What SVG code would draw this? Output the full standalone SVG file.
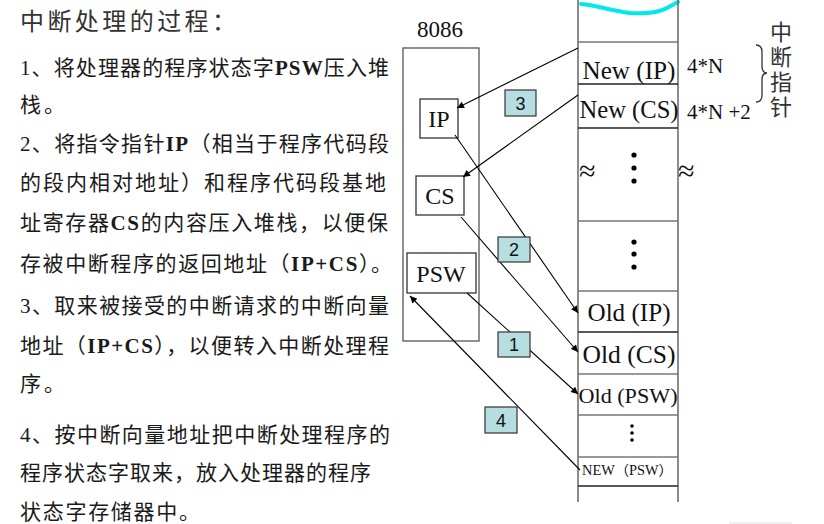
<svg xmlns="http://www.w3.org/2000/svg" width="824" height="524" viewBox="0 0 824 524">
<defs>
<marker id="ah" viewBox="0 0 10 10" refX="10" refY="5" markerWidth="8" markerHeight="7" markerUnits="userSpaceOnUse" orient="auto">
<path d="M0,0 L10,5 L0,10 z" fill="#000"/>
</marker>
</defs>
<style>
.body{font-family:"Liberation Serif","Noto Sans CJK SC",serif;font-size:21px;fill:#1a1a1a}
.b{font-weight:bold}
.ser{font-family:"Liberation Serif","Noto Sans CJK SC",serif;fill:#111}
.box{fill:#fff;stroke:#333;stroke-width:1.3}
.num{fill:#b6dde0;stroke:#333;stroke-width:1.2}
.numt{font-family:"Liberation Sans",sans-serif;font-size:18px;fill:#111;text-anchor:middle}
.col{stroke:#666;stroke-width:1.5}
.hl{stroke:#777;stroke-width:1.3}
.hd{stroke:#222;stroke-width:1.6}
.conn{stroke:#000;stroke-width:1.1;fill:none}
.dot{fill:#000}
</style>

<g id="title">
<text x="20" y="30" font-family="Noto Sans CJK SC,sans-serif" font-size="24" fill="#333" textLength="216" lengthAdjust="spacing">中断处理的过程：</text>
</g>

<g id="steps" class="body">
<text x="20" y="75" textLength="369" lengthAdjust="spacing">1、将处理器的程序状态字<tspan class="b">PSW</tspan>压入堆</text>
<text x="20" y="112" textLength="45" lengthAdjust="spacing">栈。</text>
<text x="20" y="151" textLength="369" lengthAdjust="spacing">2、将指令指针<tspan class="b">IP</tspan>（相当于程序代码段</text>
<text x="20" y="190" textLength="366" lengthAdjust="spacing">的段内相对地址）和程序代码段基地</text>
<text x="20" y="230" textLength="368" lengthAdjust="spacing">址寄存器<tspan class="b">CS</tspan>的内容压入堆栈，以便保</text>
<text x="20" y="271" textLength="372" lengthAdjust="spacing">存被中断程序的返回地址（<tspan class="b">IP+CS</tspan>）。</text>
<text x="20" y="313" textLength="369" lengthAdjust="spacing">3、取来被接受的中断请求的中断向量</text>
<text x="20" y="353" textLength="369" lengthAdjust="spacing">地址（<tspan class="b">IP+CS</tspan>），以便转入中断处理程</text>
<text x="20" y="391" textLength="45" lengthAdjust="spacing">序。</text>
<text x="20" y="442" textLength="370" lengthAdjust="spacing">4、按中断向量地址把中断处理程序的</text>
<text x="20" y="480" textLength="351" lengthAdjust="spacing">程序状态字取来，放入处理器的程序</text>
<text x="20" y="519" textLength="180" lengthAdjust="spacing">状态字存储器中。</text>
</g>

<g id="cpu8086">
<text class="ser" x="440" y="37" font-size="23" text-anchor="middle">8086</text>
<rect x="403" y="48" width="76" height="293" fill="none" stroke="#555" stroke-width="1.3"/>
</g>
<g id="reg-ip">
<rect class="box" x="420" y="99" width="38" height="39"/>
<text class="ser" x="439" y="127" font-size="24" text-anchor="middle">IP</text>
</g>
<g id="reg-cs">
<rect class="box" x="416" y="176" width="48" height="39"/>
<text class="ser" x="440" y="204" font-size="24" text-anchor="middle">CS</text>
</g>
<g id="reg-psw">
<rect class="box" x="407" y="253" width="69" height="40"/>
<text class="ser" x="441" y="282" font-size="24" text-anchor="middle">PSW</text>
</g>

<g id="stack">
<path d="M581,4 C596,5 608,10 630,13 C648,14 660,12 667,8 L678,2" fill="none" stroke="#00e8f0" stroke-width="4" stroke-linecap="round"/>
<line class="col" x1="578" y1="0" x2="578" y2="502"/>
<line class="col" x1="678" y1="0" x2="678" y2="502"/>
<line class="hl" x1="578" y1="42" x2="678" y2="42"/>
<line class="hd" x1="578" y1="84" x2="678" y2="84"/>
<line class="hd" x1="578" y1="128" x2="678" y2="128"/>
<line class="hl" x1="578" y1="221" x2="678" y2="221"/>
<line class="hl" x1="578" y1="291" x2="678" y2="291"/>
<line class="hd" x1="578" y1="332" x2="678" y2="332"/>
<line class="hl" x1="578" y1="374" x2="678" y2="374"/>
<line class="hl" x1="578" y1="415" x2="678" y2="415"/>
<line class="hl" x1="578" y1="457" x2="678" y2="457"/>
<line class="hd" x1="578" y1="486" x2="678" y2="486"/>
</g>
<g id="new-ip"><text class="ser" x="629" y="79" font-size="25" text-anchor="middle" textLength="93" lengthAdjust="spacingAndGlyphs">New (IP)</text></g>
<g id="new-cs"><text class="ser" x="629" y="118" font-size="25" text-anchor="middle" textLength="99" lengthAdjust="spacingAndGlyphs">New (CS)</text></g>
<g id="gap1">
<text class="ser" x="579" y="181" font-size="30">≈</text>
<text class="ser" x="678" y="181" font-size="30">≈</text>
<circle class="dot" cx="634" cy="155" r="2.6"/><circle class="dot" cx="634" cy="168" r="2.6"/><circle class="dot" cx="634" cy="181" r="2.6"/>
</g>
<g id="gap2">
<circle class="dot" cx="634" cy="242" r="2.6"/><circle class="dot" cx="634" cy="254" r="2.6"/><circle class="dot" cx="634" cy="267" r="2.6"/>
</g>
<g id="old-ip"><text class="ser" x="629" y="321" font-size="25" text-anchor="middle" textLength="83" lengthAdjust="spacingAndGlyphs">Old (IP)</text></g>
<g id="old-cs"><text class="ser" x="629" y="363" font-size="25" text-anchor="middle" textLength="93" lengthAdjust="spacingAndGlyphs">Old (CS)</text></g>
<g id="old-psw"><text class="ser" x="628" y="403" font-size="22" text-anchor="middle" textLength="99" lengthAdjust="spacingAndGlyphs">Old (PSW)</text></g>
<g id="gap3">
<circle class="dot" cx="632" cy="426" r="1.8"/><circle class="dot" cx="632" cy="433" r="1.8"/><circle class="dot" cx="632" cy="440" r="1.8"/>
</g>
<g id="new-psw"><text class="ser" x="582" y="475" font-size="14" textLength="91" lengthAdjust="spacingAndGlyphs">NEW（PSW）</text></g>

<g id="vector-labels">
<text class="ser" x="687" y="73" font-size="21">4*N</text>
<text class="ser" x="687" y="119" font-size="21">4*N +2</text>
<path d="M756,45 Q762,45 762,52 L762,66 Q762,73 767,73 Q762,73 762,80 L762,95 Q762,102 756,102" fill="none" stroke="#333" stroke-width="1.3"/>
<text x="781" y="21" writing-mode="tb" glyph-orientation-vertical="0" letter-spacing="3" font-family="Noto Sans CJK SC,sans-serif" font-size="22" fill="#333">中断指针</text>
</g>

<g id="connectors">
<line class="conn" x1="578" y1="48" x2="457" y2="108" marker-end="url(#ah)"/>
<line class="conn" x1="578" y1="95" x2="463" y2="177" marker-end="url(#ah)"/>
<line class="conn" x1="455" y1="135" x2="578" y2="313" marker-end="url(#ah)"/>
<line class="conn" x1="461" y1="217" x2="578" y2="352" marker-end="url(#ah)"/>
<line class="conn" x1="467" y1="293" x2="578" y2="394" marker-end="url(#ah)"/>
<line class="conn" x1="580" y1="470" x2="410" y2="296" marker-end="url(#ah)"/>
</g>

<g id="step3"><rect class="num" x="505" y="90" width="31" height="26"/><text class="numt" x="520.5" y="110">3</text></g>
<g id="step2"><rect class="num" x="498" y="237" width="32" height="25"/><text class="numt" x="514" y="256">2</text></g>
<g id="step1"><rect class="num" x="498" y="332" width="32" height="25"/><text class="numt" x="514" y="351">1</text></g>
<g id="step4"><rect class="num" x="485" y="407" width="32" height="26"/><text class="numt" x="501" y="427">4</text></g>

<line x1="729" y1="523" x2="792" y2="523" stroke="#ddd" stroke-width="1"/>
</svg>
